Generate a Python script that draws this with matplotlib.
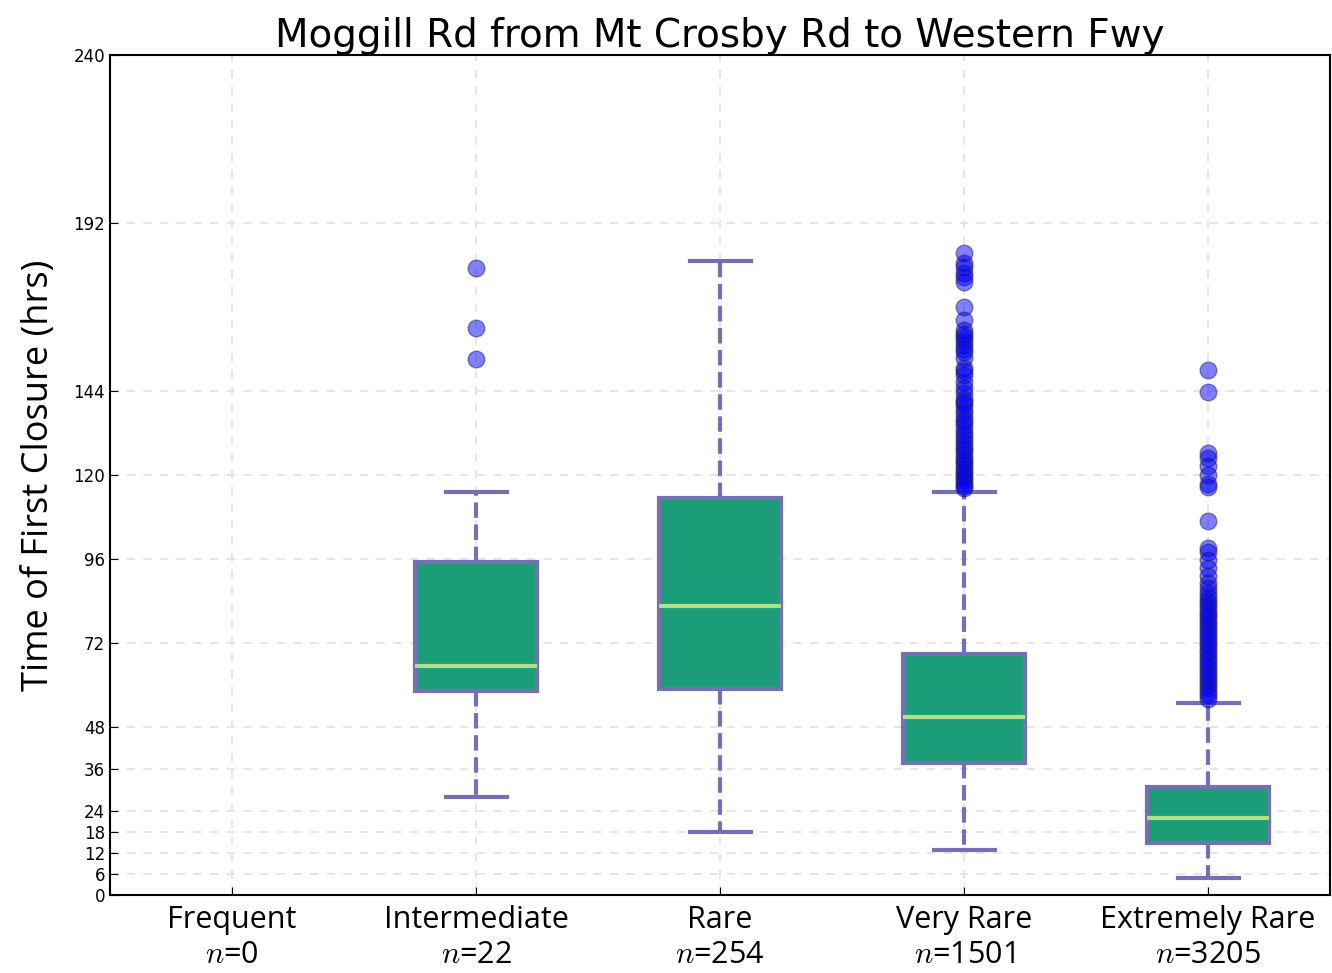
import matplotlib

matplotlib.use("Agg")
import matplotlib.pyplot as plt

plt.rcParams["mathtext.fontset"] = "cm"

title = "Moggill Rd from Mt Crosby Rd to Western Fwy"
categories = ["Frequent", "Intermediate", "Rare", "Very Rare", "Extremely Rare"]
counts = [0, 22, 254, 1501, 3205]
y_ticks = [0, 6, 12, 18, 24, 36, 48, 72, 96, 120, 144, 192, 240]

# box stats for the categories that have data (Frequent is empty)
box_pos = [2, 3, 4, 5]
whislo = [28.0, 18.0, 12.9, 4.9]
q1 = [58.3, 58.9, 37.7, 14.9]
med = [65.4, 82.6, 50.9, 22.0]
q3 = [95.1, 113.4, 68.9, 30.9]
whishi = [115.1, 181.1, 115.1, 54.9]

fliers_inter = [179.1, 162.0, 153.1]
fliers_rare = []
fliers_very = [183.4, 180.6, 179.4, 177.8, 176.6, 175.1, 168.0, 164.3, 161.4,
               160.3, 159.4, 158.2, 157.1, 156.0, 155.1, 153.4, 150.6, 149.7,
               148.6, 146.6, 144.9, 143.4, 141.7, 140.9, 140.0, 138.6, 137.4,
               136.0, 135.1, 134.0, 132.6, 131.4, 130.3, 129.1, 128.0, 127.1,
               126.0, 124.9, 124.0, 123.1, 122.0, 121.1, 120.3, 119.4, 118.6,
               117.7, 116.9, 116.3]
fliers_extreme = [150.0, 143.8, 126.2, 124.9, 122.6, 120.0, 117.4, 116.7, 106.9,
                  99.0, 98.0, 95.7, 93.4, 91.0, 89.1, 87.7, 86.3, 85.1, 84.0,
                  83.1, 82.0, 80.9, 80.0, 79.1, 78.0, 77.1, 76.0, 75.1, 74.0,
                  73.1, 72.0, 71.1, 70.0, 69.1, 68.0, 67.1, 66.0, 65.1, 64.0,
                  63.1, 62.0, 61.1, 60.0, 59.1, 58.0, 57.1, 56.0]
fliers = [fliers_inter, fliers_rare, fliers_very, fliers_extreme]

stats = []
for i in range(len(box_pos)):
    stats.append({"whislo": whislo[i], "q1": q1[i], "med": med[i], "q3": q3[i],
                  "whishi": whishi[i], "fliers": fliers[i]})

fig = plt.figure(figsize=(13.32, 9.73), dpi=100)
ax = fig.add_axes([0.0826, 0.0802, 0.9159, 0.8633])

purple = "#7570b3"
ax.bxp(stats, positions=box_pos, widths=0.5, patch_artist=True,
       boxprops=dict(facecolor="#1b9e77", edgecolor=purple, linewidth=3),
       medianprops=dict(color="#b2df8a", linewidth=3),
       whiskerprops=dict(color=purple, linewidth=3, linestyle="--"),
       capprops=dict(color=purple, linewidth=3),
       flierprops=dict(marker="o", markerfacecolor="blue", markeredgecolor="#202060",
                       markersize=12, alpha=0.5, linestyle="none"))

ax.set_xlim(0.5, 5.5)
ax.set_ylim(0, 240)
ax.set_yticks(y_ticks)
ax.set_yticklabels([str(t) for t in y_ticks], fontsize=12)
ax.set_xticks(range(1, len(categories) + 1))
ax.set_xticklabels([c + "\n$n$=" + str(n) for c, n in zip(categories, counts)],
                   fontsize=22, family="Open Sans", linespacing=1.25)
ax.tick_params(direction="in", length=6, top=False, right=False)
ax.tick_params(axis="x", pad=7)

ax.grid(True, color="#e2e2e2", linestyle=(0, (5, 5)), linewidth=1.2)
ax.set_axisbelow(True)
for s in ax.spines.values():
    s.set_linewidth(1.5)

ax.set_ylabel("Time of First Closure (hrs)", fontsize=26, family="Open Sans",
              labelpad=12)
ax.set_title(title, fontsize=28, pad=6)

plt.savefig("out.png")
plt.close()
